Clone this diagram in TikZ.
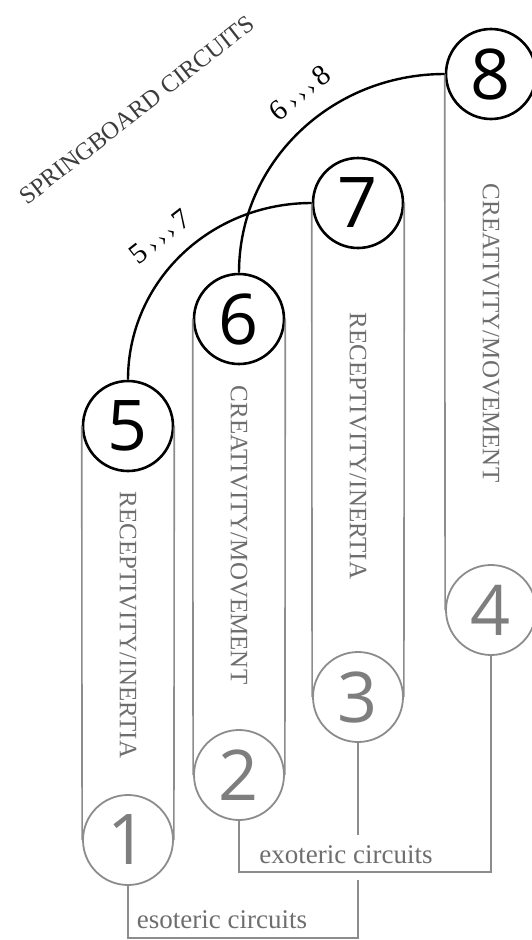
\documentclass[tikz,border=0pt]{standalone}
\usepackage{fontspec}
\setmainfont{Liberation Serif}
\newfontfamily\numfont{Open Sans}
\definecolor{ringgrey}{HTML}{8C8C8C}
\definecolor{digitgrey}{HTML}{7E7E7E}
\definecolor{textgrey}{HTML}{6E6E6E}
\definecolor{titlegrey}{HTML}{3C3C3C}
\tikzset{
  ring/.style     = {circle,minimum size=90pt,inner sep=0pt,
                     font=\numfont\fontsize{70}{70}\selectfont},
  darkring/.style = {ring,draw=black,line width=2.6pt,text=black},
  palering/.style = {ring,draw=ringgrey,line width=1.8pt,text=digitgrey},
  rail/.style     = {draw=ringgrey,line width=1.6pt},
  bridge/.style   = {draw=ringgrey,line width=2pt},
  jump/.style     = {draw=black,line width=2.4pt},
  quality/.style  = {rotate=-90,text=textgrey,inner sep=0pt,
                     font=\fontsize{25}{25}\selectfont},
  circlbl/.style  = {text=textgrey,inner sep=0pt,anchor=base,
                     font=\fontsize{27}{27}\selectfont},
  steplbl/.style  = {rotate=38,inner sep=0pt,font=\fontsize{29}{29}\selectfont},
}
\newcommand{\hop}{{\fontsize{22}{22}\selectfont
  \hspace{6pt}›\hspace{4pt}›\hspace{4pt}›\hspace{5pt}}}

\begin{document}
\begin{tikzpicture}[x=1pt,y=-1pt]
  \path[use as bounding box,clip] (0,0) rectangle (532,940);

  \node[palering] (c1) at (128,840) {1};
  \node[palering] (c2) at (239,775) {2};
  \node[palering] (c3) at (358,697) {3};
  \node[palering] (c4) at (491,610) {4};
  \node[darkring] (c5) at (128,426) {5};
  \node[darkring] (c6) at (239,319) {6};
  \node[darkring] (c7) at (358,203) {7};
  \node[darkring] (c8) at (491,74) {8};

  % the four columns
  \foreach \up/\dn in {c5/c1,c6/c2,c7/c3,c8/c4}{
    \draw[rail] (\up.west) -- (\dn.west);
    \draw[rail] (\up.east) -- (\dn.east);
  }
  \node[quality] (q1) at (128,625) {RECEPTIVITY/INERTIA};
  \node[quality] (q2) at (239,535) {CREATIVITY/MOVEMENT};
  \node[quality] (q3) at (358,446) {RECEPTIVITY/INERTIA};
  \node[quality] (q4) at (491,333) {CREATIVITY/MOVEMENT};

  % springboard jumps
  \draw[jump] (c5.north) .. controls +(0,-98) and +(-102,0) .. (c7.west);
  \draw[jump] (c6.north) .. controls +(0,-110) and +(-114,0) .. (c8.west);
  \node[steplbl] (s57) at (160,237) {5\hop7};
  \node[steplbl] (s68) at (300,93) {6\hop8};
  \node[steplbl,text=titlegrey,font=\fontsize{24.5}{24.5}\selectfont]
    (title) at (137,110) {SPRINGBOARD CIRCUITS};

  % exoteric and esoteric circuits
  \coordinate (exo) at (0,872);
  \coordinate (eso) at (0,938);
  \coordinate (gapa) at (0,835);
  \coordinate (gapb) at (0,880);
  \draw[bridge] (c2.south) |- (c4.south |- exo) -- (c4.south);
  \draw[bridge] (c3.south) -- (c3.south |- gapa);
  \draw[bridge] (c3.south |- gapb) |- (c1.south |- eso) -- (c1.south);
  \node[circlbl] (exolbl) at (346,863) {exoteric circuits};
  \node[circlbl] (esolbl) at (222,928) {esoteric circuits};
\end{tikzpicture}
\end{document}
